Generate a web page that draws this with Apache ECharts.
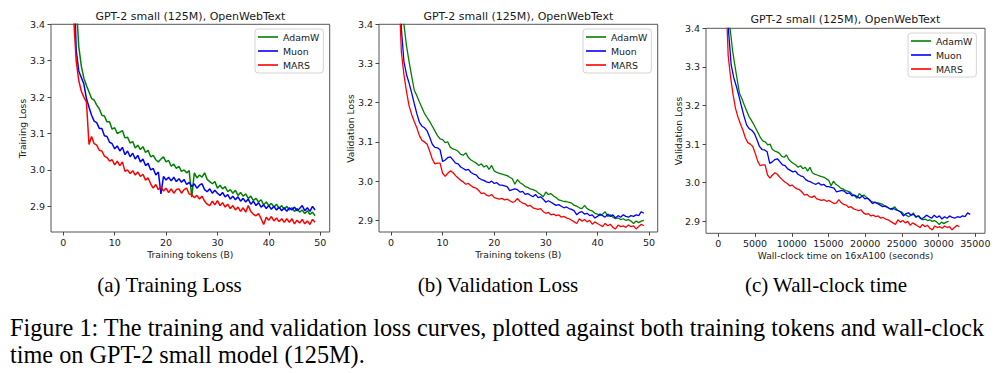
<!DOCTYPE html>
<html><head><meta charset="utf-8">
<script src="https://cdn.jsdelivr.net/npm/echarts@6/dist/echarts.min.js"></script>
<style>html,body{margin:0;padding:0;background:#fff}#c{width:1000px;height:373px}</style>
</head><body><div id="c"></div>
<script>
// ---------------- data ----------------
const seriesNames = ['AdamW', 'Muon', 'MARS'];
const tokens = [1.5,2,2.5,3,3.5,4,4.5,5,5.5,6, 6.5,7,7.5,8,8.5,9,9.5,10,10.5,11,
  11.5,12,12.5,13,13.5,14,14.5,15,15.5,16, 16.5,17,17.5,18,18.5,19,19.5,20,20.5,21,
  21.5,22,22.5,23,23.5,24,24.5,25,25.5,26, 26.5,27,27.5,28,28.5,29,29.5,30,30.5,31,
  31.5,32,32.5,33,33.5,34,34.5,35,35.5,36, 36.5,37,37.5,38,38.5,39,39.5,40,40.5,41,
  41.5,42,42.5,43,43.5,44,44.5,45,45.5,46, 46.5,47,47.5,48,48.5,49];

const wallAdamW = [960,1280,1600,1920,2240,2560,2880,3200,3520,3840,
  4160,4480,4800,5120,5440,5760,6080,6400,6720,7040,
  7360,7680,8000,8320,8640,8960,9280,9600,9920,10240,
  10560,10880,11200,11520,11840,12160,12480,12800,13120,13440,
  13760,14080,14400,14720,15040,15360,15680,16000,16320,16640,
  16960,17280,17600,17920,18240,18560,18880,19200,19520,19840,
  20160,20480,20800,21120,21440,21760,22080,22400,22720,23040,
  23360,23680,24000,24320,24640,24960,25280,25600,25920,26240,
  26560,26880,27200,27520,27840,28160,28480,28800,29120,29440,
  29760,30080,30400,30720,31040,31360];
const wallMuon = [1050,1400,1750,2100,2450,2800,3150,3500,3850,4200,
  4550,4900,5250,5600,5950,6300,6650,7000,7350,7700,
  8050,8400,8750,9100,9450,9800,10150,10500,10850,11200,
  11550,11900,12250,12600,12950,13300,13650,14000,14350,14700,
  15050,15400,15750,16100,16450,16800,17150,17500,17850,18200,
  18550,18900,19250,19600,19950,20300,20650,21000,21350,21700,
  22050,22400,22750,23100,23450,23800,24150,24500,24850,25200,
  25550,25900,26250,26600,26950,27300,27650,28000,28350,28700,
  29050,29400,29750,30100,30450,30800,31150,31500,31850,32200,
  32550,32900,33250,33600,33950,34300];
const wallMARS = [1005,1340,1675,2010,2345,2680,3015,3350,3685,4020,
  4355,4690,5025,5360,5695,6030,6365,6700,7035,7370,
  7705,8040,8375,8710,9045,9380,9715,10050,10385,10720,
  11055,11390,11725,12060,12395,12730,13065,13400,13735,14070,
  14405,14740,15075,15410,15745,16080,16415,16750,17085,17420,
  17755,18090,18425,18760,19095,19430,19765,20100,20435,20770,
  21105,21440,21775,22110,22445,22780,23115,23450,23785,24120,
  24455,24790,25125,25460,25795,26130,26465,26800,27135,27470,
  27805,28140,28475,28810,29145,29480,29815,30150,30485,30820,
  31155,31490,31825,32160,32495,32830];

const trainAdamW = [4.0,3.70,3.46,3.34,3.285,3.252,3.232,3.214,3.196,3.192,
  3.178,3.168,3.150,3.148,3.132,3.132,3.112,3.116,3.100,3.104,
  3.108,3.088,3.090,3.074,3.078,3.060,3.068,3.056,3.064,3.048,
  3.054,3.036,3.040,3.028,3.022,3.030,3.036,3.022,3.026,3.010,
  3.016,3.004,3.010,2.996,3.000,2.992,2.998,2.925,2.992,2.978,
  2.986,2.980,2.992,2.974,2.968,2.962,2.968,2.950,2.958,2.948,
  2.954,2.940,2.946,2.936,2.944,2.930,2.938,2.928,2.934,2.922,
  2.928,2.916,2.922,2.912,2.918,2.904,2.912,2.902,2.908,2.898,
  2.906,2.894,2.902,2.892,2.900,2.890,2.896,2.886,2.894,2.884,
  2.890,2.880,2.888,2.878,2.884,2.874];
const trainMuon = [3.9,3.55,3.33,3.272,3.254,3.236,3.196,3.172,3.150,3.134,
  3.130,3.114,3.114,3.094,3.092,3.076,3.072,3.058,3.066,3.052,
  3.062,3.042,3.052,3.036,3.046,3.030,3.040,3.022,3.030,3.012,
  3.018,3.000,3.004,2.986,2.994,2.934,2.982,2.972,2.980,2.970,
  2.980,2.968,2.976,2.966,2.974,2.960,2.966,2.954,2.962,2.950,
  2.958,2.962,2.946,2.940,2.948,2.936,2.944,2.936,2.930,2.938,
  2.926,2.932,2.920,2.928,2.918,2.926,2.914,2.922,2.912,2.920,
  2.906,2.914,2.902,2.910,2.898,2.904,2.894,2.902,2.892,2.900,
  2.890,2.898,2.888,2.896,2.886,2.896,2.890,2.898,2.888,2.894,
  2.902,2.888,2.896,2.886,2.900,2.890];
const trainMARS = [3.70,3.42,3.30,3.246,3.216,3.200,3.186,3.070,3.092,3.072,
  3.068,3.054,3.052,3.038,3.034,3.024,3.028,3.014,3.024,3.012,
  3.022,2.996,3.000,2.990,2.998,2.986,2.994,2.982,2.988,2.972,
  2.978,2.962,2.950,2.960,2.946,2.954,2.942,2.950,2.938,2.948,
  2.936,2.946,2.948,2.936,2.946,2.950,2.934,2.932,2.924,2.930,
  2.920,2.928,2.914,2.906,2.902,2.914,2.904,2.916,2.902,2.910,
  2.898,2.906,2.894,2.902,2.890,2.898,2.886,2.896,2.884,2.902,
  2.886,2.878,2.874,2.880,2.866,2.850,2.870,2.862,2.872,2.860,
  2.868,2.858,2.866,2.856,2.866,2.856,2.866,2.852,2.862,2.854,
  2.864,2.852,2.860,2.850,2.864,2.856];

const valAdamW = [3.85,3.55,3.40,3.345,3.305,3.268,3.232,3.218,3.202,3.187,
  3.172,3.162,3.152,3.140,3.128,3.116,3.108,3.106,3.098,3.100,
  3.086,3.082,3.080,3.076,3.068,3.066,3.072,3.060,3.054,3.050,
  3.046,3.040,3.044,3.036,3.040,3.030,3.040,3.026,3.022,3.020,
  3.018,3.016,3.014,3.010,3.006,2.992,3.004,2.996,2.992,2.986,
  2.984,2.980,2.978,2.976,2.970,2.966,2.960,2.972,2.966,2.968,
  2.962,2.958,2.952,2.950,2.948,2.948,2.946,2.944,2.938,2.936,
  2.932,2.930,2.938,2.930,2.926,2.924,2.918,2.916,2.912,2.916,
  2.922,2.910,2.914,2.908,2.904,2.906,2.902,2.904,2.900,2.902,
  2.898,2.892,2.898,2.894,2.898,2.900];
const valMuon = [3.60,3.39,3.305,3.272,3.250,3.225,3.198,3.172,3.150,3.140,
  3.136,3.128,3.112,3.094,3.086,3.085,3.080,3.050,3.054,3.060,
  3.062,3.054,3.046,3.044,3.036,3.032,3.028,3.030,3.022,3.018,
  3.016,3.008,3.004,3.002,2.998,2.996,3.000,2.994,2.996,2.990,
  2.990,2.988,2.986,2.976,2.978,2.980,2.978,2.972,2.974,2.966,
  2.968,2.964,2.960,2.966,2.958,2.960,2.954,2.946,2.950,2.946,
  2.942,2.938,2.940,2.936,2.932,2.934,2.930,2.928,2.924,2.914,
  2.920,2.922,2.916,2.918,2.912,2.914,2.906,2.910,2.916,2.912,
  2.908,2.916,2.910,2.914,2.906,2.912,2.908,2.914,2.910,2.908,
  2.912,2.910,2.914,2.912,2.922,2.918];
const valMARS = [3.50,3.33,3.272,3.228,3.192,3.170,3.152,3.136,3.116,3.104,
  3.100,3.094,3.076,3.056,3.044,3.046,3.046,3.020,3.012,3.020,
  3.026,3.022,3.014,3.008,3.002,2.998,2.992,2.994,2.988,2.984,
  2.982,2.976,2.968,2.970,2.964,2.962,2.966,2.958,2.956,2.954,
  2.956,2.952,2.954,2.950,2.946,2.948,2.956,2.948,2.944,2.942,
  2.936,2.938,2.932,2.930,2.928,2.930,2.922,2.918,2.920,2.914,
  2.916,2.912,2.914,2.908,2.910,2.906,2.904,2.900,2.896,2.892,
  2.904,2.898,2.902,2.896,2.900,2.890,2.896,2.892,2.888,2.884,
  2.892,2.886,2.890,2.882,2.878,2.888,2.884,2.886,2.882,2.888,
  2.884,2.886,2.878,2.884,2.890,2.886];

const tokenTicks = [0, 10, 20, 30, 40, 50];
const timeTicks = [0, 5000, 10000, 15000, 20000, 25000, 30000, 35000];
const lossTicks = [2.9, 3.0, 3.1, 3.2, 3.3, 3.4];

const panelTitle = 'GPT-2 small (125M), OpenWebText';
const yNames = ['Training Loss', 'Validation Loss', 'Validation Loss'];
const xNames = ['Training tokens (B)', 'Training tokens (B)', 'Wall-clock time on 16xA100 (seconds)'];
const subCaptions = ['(a) Training Loss', '(b) Validation Loss', '(c) Wall-clock time'];
const captionLines = ['Figure 1: The training and validation loss curves, plotted against both training tokens and wall-clock',
  'time on GPT-2 small model (125M).'];

// ---------------- layout / style ----------------
const colors = ['#008000', '#0000ff', '#ff0000'];
const SANS = '"DejaVu Sans"';
const SERIF = '"Liberation Serif"';
const grids = [
  {left: 51, top: 24.3, width: 278.7, height: 207.7},
  {left: 379, top: 24.3, width: 278.7, height: 207.7},
  {left: 706, top: 28.3, width: 279, height: 205}
];
const xRanges = [[-2.4, 51.85], [-2.33, 51.68], [-1680, 36316]];
const yRanges = [[2.8295, 3.4], [2.8702, 3.4], [2.869, 3.4]];
const legendPos = [[255, 29], [583, 29], [908, 33]];
const lineWidths = [1.5, 1.3, 1.3];

function zip(xs, ys) { return xs.map((x, i) => [x, ys[i]]); }
function fitSize(text, family, targetW) {
  const ctx = document.createElement('canvas').getContext('2d');
  ctx.font = '100px ' + family;
  return 100 * targetW / ctx.measureText(text).width;
}

const panelData = [
  [zip(tokens, trainAdamW), zip(tokens, trainMuon), zip(tokens, trainMARS)],
  [zip(tokens, valAdamW), zip(tokens, valMuon), zip(tokens, valMARS)],
  [zip(wallAdamW, valAdamW), zip(wallMuon, valMuon), zip(wallMARS, valMARS)]
];

const tickColor = '#444';
const labelColor = '#1a1a1a';

const option = {
  animation: false,
  grid: grids.map(g => Object.assign({show: true, borderColor: '#555', borderWidth: 1,
    backgroundColor: 'transparent', containLabel: false, outerBoundsMode: 'none'}, g)),
  xAxis: grids.map((g, i) => ({
    gridIndex: i, type: 'value', min: xRanges[i][0], max: xRanges[i][1],
    axisLine: {show: false, onZero: false},
    splitLine: {show: false},
    axisTick: {show: true, customValues: i === 2 ? timeTicks : tokenTicks, length: 3.5,
      lineStyle: {color: tickColor, width: 1}},
    axisLabel: {customValues: i === 2 ? timeTicks : tokenTicks, margin: 5, fontSize: 9.5,
      fontFamily: SANS, color: labelColor, formatter: v => String(v)}
  })),
  yAxis: grids.map((g, i) => ({
    gridIndex: i, type: 'value', min: yRanges[i][0], max: yRanges[i][1],
    axisLine: {show: false, onZero: false},
    splitLine: {show: false},
    axisTick: {show: true, customValues: lossTicks, length: 3.5,
      lineStyle: {color: tickColor, width: 1}},
    axisLabel: {customValues: lossTicks, margin: 6, fontSize: 9.5,
      fontFamily: SANS, color: labelColor, formatter: v => v.toFixed(1)}
  })),
  legend: legendPos.map(p => ({
    left: p[0], top: p[1], orient: 'vertical', icon: 'rect', itemWidth: 20, itemHeight: 1.6,
    itemGap: 2, padding: [2, 4, 2, 3], borderColor: '#d4d4d4', borderWidth: 1, borderRadius: 3,
    backgroundColor: 'rgba(255,255,255,0.85)', selectedMode: false,
    textStyle: {fontSize: 9.4, fontFamily: SANS, color: labelColor, lineHeight: 12},
    data: seriesNames
  })),
  series: []
};
panelData.forEach((sets, p) => {
  sets.forEach((d, s) => {
    option.series.push({
      type: 'line', name: seriesNames[s], xAxisIndex: p, yAxisIndex: p, data: d,
      showSymbol: false, symbol: 'none', silent: true, clip: true,
      lineStyle: {color: colors[s], width: lineWidths[p]}, itemStyle: {color: colors[s]}
    });
  });
});

const graphics = [];
function txt(text, x, y, font, opts) {
  graphics.push(Object.assign({
    type: 'text', x: x, y: y, silent: true,
    style: {text: text, font: font, fill: opts && opts.fill || labelColor,
      align: opts && opts.align || 'center', verticalAlign: 'middle',
      textAlign: opts && opts.align || 'center', textVerticalAlign: 'middle'}
  }, opts && opts.rotation ? {rotation: opts.rotation} : {}));
}
const titleY = [16, 16, 19.3];
const yNameX = [22.3, 350, 678.3];
const yNameY = [128.5, 128.5, 131];
const xNameY = [254, 254, 255.3];
grids.forEach((g, i) => {
  const cx = g.left + g.width / 2;
  txt(panelTitle, cx, titleY[i], '11px ' + SANS);
  txt(xNames[i], cx, xNameY[i], '9.2px ' + SANS);
  txt(yNames[i], yNameX[i], yNameY[i], '9.2px ' + SANS, {rotation: Math.PI / 2});
});
const subSize = fitSize(subCaptions[0], SERIF, 145);
const subX = [169.5, 498, 826];
subCaptions.forEach((t, i) => txt(t, subX[i], 284.5, subSize.toFixed(2) + 'px ' + SERIF, {fill: '#000'}));
const capSize = fitSize(captionLines[0], SERIF, 975);
txt(captionLines[0], 10, 327, capSize.toFixed(2) + 'px ' + SERIF, {fill: '#000', align: 'left'});
txt(captionLines[1], 10, 354, capSize.toFixed(2) + 'px ' + SERIF, {fill: '#000', align: 'left'});
option.graphic = {elements: graphics};

const chart = echarts.init(document.getElementById('c'), null, {renderer: 'svg'});
chart.setOption(option);
</script>
</body></html>
